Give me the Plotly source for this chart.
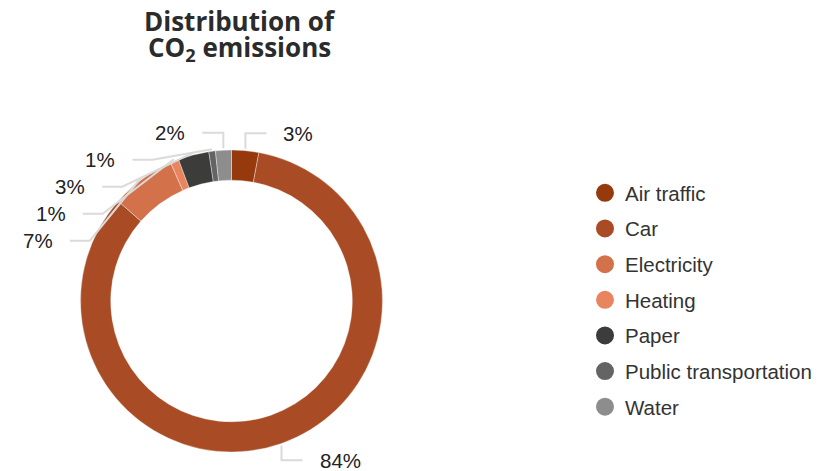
import math
import plotly.graph_objects as go

# ---- data ----
categories = ["Air traffic", "Car", "Electricity", "Heating", "Paper",
              "Public transportation", "Water"]
values = [2.9, 83.6, 6.9, 0.9, 3.3, 0.7, 1.7]
colors = ["#963A0E", "#A94B24", "#D2714A", "#E8855F", "#3C3C3A", "#646464", "#8D8D8D"]

# ---- layout constants (pixels, screen coordinates) ----
W, H = 838, 471
OFF = 8  # page body margin
CX, CY, R = 231.5, 301.0, 151.0
HOLE = 0.8
LABEL_FONT = "Liberation Sans, Arial, sans-serif"


def to_paper(x, y):
    return (x - OFF) / W, 1 - (y - OFF) / H


fig = go.Figure()

x0, y0 = to_paper(CX - R, CY + R)
x1, y1 = to_paper(CX + R, CY - R)
fig.add_trace(go.Pie(
    labels=categories, values=values, sort=False, direction="clockwise",
    rotation=0, hole=HOLE, textinfo="none", hoverinfo="label+percent",
    marker=dict(colors=colors, line=dict(color="rgba(255,255,255,0.6)", width=0.6)),
    domain=dict(x=[x0, x1], y=[y0, y1]), showlegend=False,
))

# legend entries as circle markers
for cat, col in zip(categories, colors):
    fig.add_trace(go.Scatter(x=[None], y=[None], mode="markers", name=cat,
                             legendgroup=cat,
                             marker=dict(color=col, size=18, symbol="circle",
                                         line=dict(color=col, width=2))))

# ---- outside labels with leader lines, derived from the values ----
total = sum(values)
items = []
cum = 0.0
for v in values:
    ang = (cum + v / 2) / total * 2 * math.pi
    cum += v
    s, c = math.sin(ang), math.cos(ang)
    side = 1 if s >= 0 else -1
    items.append(dict(pct=f"{round(v / total * 100)}%", s=s, c=c, side=side,
                      ny=CY - (R + 17.5) * c))

GAP = 27
for side in (1, -1):
    grp = sorted([it for it in items if it["side"] == side], key=lambda d: d["ny"])
    prev = None
    for it in grp:
        y = it["ny"] if prev is None else max(it["ny"], prev + GAP)
        it["y"] = y
        prev = y

shapes = []
annotations = []
for it in items:
    side = it["side"]
    p0 = (CX + (R + 2) * it["s"], CY - (R + 2) * it["c"])
    y = it["y"]
    if abs(y - it["ny"]) < 0.5:
        cx_ = p0[0]
        ex = cx_ + side * 21
    else:
        ex = CX + side * math.sqrt(max(0.0, (R + 21.5) ** 2 - (y - CY) ** 2))
        cx_ = ex - side * 20
    pts = [to_paper(*p0), to_paper(cx_, y), to_paper(ex, y)]
    path = "M {} {} L {} {} L {} {}".format(*[v for p in pts for v in p])
    shapes.append(dict(type="path", xref="paper", yref="paper", path=path,
                       line=dict(color="#DADADA", width=2)))
    lx, ly = to_paper(ex + side * 15, y)
    annotations.append(dict(x=lx, y=ly, xref="paper", yref="paper", text=it["pct"],
                            showarrow=False, xanchor="left" if side > 0 else "right",
                            yanchor="middle",
                            font=dict(family=LABEL_FONT, size=20.5, color="#222222")))

# title (two lines)
tx, ty1 = to_paper(240, 21)
_, ty2 = to_paper(240, 48)
annotations.append(dict(x=tx, y=ty1, xref="paper", yref="paper",
                        text="<b>Distribution of</b>", showarrow=False,
                        xanchor="center", yanchor="middle",
                        font=dict(family="Open Sans, sans-serif", size=26, color="#2B2B2B")))
annotations.append(dict(x=tx, y=ty2, xref="paper", yref="paper",
                        text="<b>CO<sub>2</sub> emissions</b>", showarrow=False,
                        xanchor="center", yanchor="middle",
                        font=dict(family="Open Sans, sans-serif", size=26, color="#2B2B2B")))

lgx, lgy = to_paper(585, 173)
fig.update_layout(
    width=W, height=H, margin=dict(l=0, r=0, t=0, b=0),
    paper_bgcolor="white", plot_bgcolor="white",
    xaxis=dict(visible=False), yaxis=dict(visible=False),
    shapes=shapes, annotations=annotations,
    legend=dict(x=lgx, y=lgy, xanchor="left", yanchor="top",
                font=dict(family=LABEL_FONT, size=20.5, color="#333333"),
                tracegroupgap=6, itemsizing="trace", bgcolor="rgba(0,0,0,0)"),
    showlegend=True,
)

fig.write_html("out.html")
